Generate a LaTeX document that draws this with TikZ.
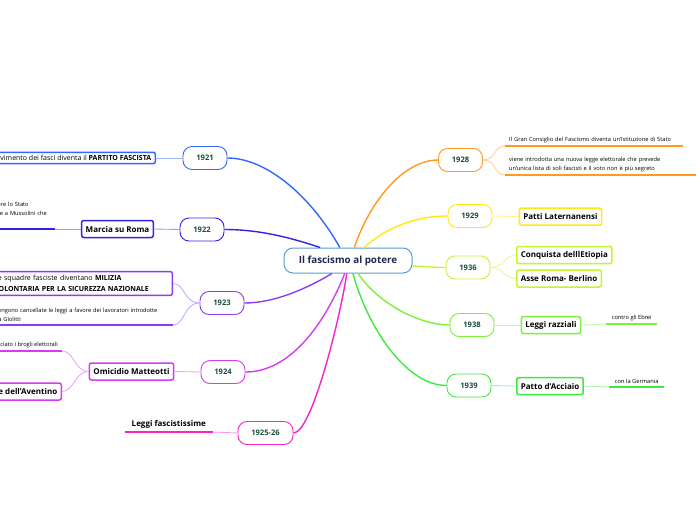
\documentclass[tikz,border=0pt]{standalone}
\usepackage{fontspec}
\setmainfont{Open Sans}
\usetikzlibrary{positioning}
\definecolor{rootblue}{HTML}{5B9BD5}
\definecolor{rootnavy}{HTML}{1B2A4E}
\definecolor{yeargreen}{HTML}{1A4D3C}
\definecolor{col1921}{HTML}{3366FF}
\definecolor{col1922}{HTML}{3322E6}
\definecolor{col1923}{HTML}{8B3DF2}
\definecolor{col1924}{HTML}{D53CF0}
\definecolor{col1925}{HTML}{F523C8}
\definecolor{col1928}{HTML}{FF9A1F}
\definecolor{col1929}{HTML}{FFEA10}
\definecolor{col1936}{HTML}{C4F530}
\definecolor{col1938}{HTML}{7CF03A}
\definecolor{col1939}{HTML}{3CEB3C}

\begin{document}
\begin{tikzpicture}[x=1pt, y=-1pt,
    root/.style={draw=rootblue, line width=1pt, rounded corners=9pt, fill=white, minimum width=128pt, minimum height=25pt, font=\fontsize{9.8}{11}\selectfont\bfseries, text=rootnavy},
    year/.style={draw=#1, line width=0.9pt, rounded corners=9pt, fill=white, minimum width=44pt, minimum height=23pt, font=\fontsize{7.6}{8}\selectfont\bfseries, text=yeargreen},
    topic/.style={draw=#1, line width=1.5pt, rounded corners=2pt, fill=white, inner xsep=4pt, inner ysep=0pt, minimum height=17pt, font=\fontsize{8}{9}\selectfont\bfseries},
    textbox/.style={draw=#1, line width=1.5pt, rounded corners=2pt, fill=white, inner sep=4pt, align=left, font=\fontsize{7}{10.5}\selectfont},
    note/.style={inner xsep=4pt, inner ysep=3pt, align=left, font=\fontsize{5.7}{8.8}\selectfont},
    trunk/.style={draw=#1, line width=1.4pt},
    twig/.style={draw=#1!45, line width=0.9pt},
    noteline/.style={draw=#1, line width=1.6pt}
]
\useasboundingbox (0,0) rectangle (696,520);

% Centre
\node[root] (root) at (348,260.5) {Il fascismo al potere};

% Left years
\node[year=col1921] (y1921) at (205,158) {1921};
\node[year=col1922] (y1922) at (202,229.5) {1922};
\node[year=col1923] (y1923) at (222,303) {1923};
\node[year=col1924] (y1924) at (223,372) {1924};
\node[year=col1925, minimum width=55pt] (y1925) at (265.5,433) {1925-26};

% Right years
\node[year=col1928] (y1928) at (460.5,160) {1928};
\node[year=col1929] (y1929) at (470,216) {1929};
\node[year=col1936] (y1936) at (468,267.5) {1936};
\node[year=col1938] (y1938) at (472,325) {1938};
\node[year=col1939] (y1939) at (469,385.5) {1939};

% 1921
\node[textbox=col1921, inner ysep=3pt, anchor=east] (b1921) at (156,158) {Il movimento dei fasci diventa il \textbf{PARTITO FASCISTA}};

% 1922
\node[topic=col1922] (b1922) at (117.5,229) {Marcia su Roma};
\node[note, text width=166pt, anchor=south east] (n1922) at (55,229) {Il re Vittorio Emanuele III, invece di difendere lo Stato\\dall'insurrezione fascista, consegna il potere a Mussolini che\\forma il governo};

% 1923
\node[textbox=col1923, text width=174pt, anchor=east] (b1923) at (173,283.5) {Le squadre fasciste diventano \textbf{MILIZIA}\\\textbf{VOLONTARIA PER LA SICUREZZA NAZIONALE}};
\node[note, text width=174pt, anchor=south east] (n1923) at (173,325) {Vengono cancellate le leggi a favore dei lavoratori introdotte\\da Giolitti};

% 1924
\node[topic=col1924] (b1924) at (131.5,371.5) {Omicidio Matteotti};
\node[note, anchor=south east] (n1924) at (62,351) {Matteotti aveva denunciato i brogli elettorali};
\node[topic=col1924, anchor=east] (s1924) at (62,391.5) {Secessione dell'Aventino};

% 1925-26
\node[note, font=\fontsize{8}{9}\selectfont\bfseries, minimum width=88pt, anchor=south east] (n1925) at (213,432) {Leggi fascistissime};

% 1928
\node[note, text width=170pt, anchor=south west] (n1928a) at (505,146) {Il Gran Consiglio del Fascismo diventa un'Istituzione di Stato};
\node[note, text width=190pt, anchor=south west] (n1928b) at (505,175) {viene introdotta una nuova legge elettorale che prevede\\un'unica lista di soli fascisti e il voto non è più segreto};

% 1929
\node[topic=col1929] (b1929) at (560.5,216.5) {Patti Laternanensi};

% 1936
\node[topic=col1936, anchor=west] (b1936a) at (516,255) {Conquista delllEtiopia};
\node[topic=col1936, anchor=west] (b1936b) at (516,278.5) {Asse Roma- Berlino};

% 1938
\node[topic=col1938] (b1938) at (551,325) {Leggi razziali};
\node[note, minimum width=51pt, anchor=south west] (n1938) at (606,324) {contro gli Ebrei};

% 1939
\node[topic=col1939] (b1939) at (550,386) {Patto d'Acciaio};
\node[note, minimum width=55pt, anchor=south west] (n1939) at (609,387) {con la Germania};

% Underlines
\draw[noteline=col1922] (n1922.south west) -- (n1922.south east);
\draw[noteline=col1923] (n1923.south west) -- (n1923.south east);
\draw[noteline=col1924] (n1924.south west) -- (n1924.south east);
\draw[noteline=col1925] (n1925.south west) -- (n1925.south east);
\draw[noteline=col1928] (n1928a.south west) -- (n1928a.south east);
\draw[noteline=col1928] (n1928b.south west) -- (n1928b.south east);
\draw[noteline=col1938] (n1938.south west) -- (n1938.south east);
\draw[noteline=col1939] (n1939.south west) -- (n1939.south east);

% Trunks
\draw[trunk=col1921] (root.122.6) .. controls +(-30,-53) and +(38,0) .. (y1921.east);
\draw[trunk=col1922] (root.155.9) .. controls +(-30,-10) and +(35,0) .. (y1922.east);
\draw[trunk=col1923] (root.219.8) .. controls +(-25,15) and +(30,0) .. (y1923.east);
\draw[trunk=col1924] (root.256.5) .. controls +(-20,50) and +(45,0) .. (y1924.east);
\draw[trunk=col1925] (root.265.4) .. controls +(-8,50) and +(18,0) .. (y1925.east);
\draw[trunk=col1928] (root.64.4) .. controls +(15,-45) and +(-35,0) .. (y1928.west);
\draw[trunk=col1929] (root.39.8) .. controls +(20,-18) and +(-35,0) .. (y1929.west);
\draw[trunk=col1936] (root.355.1) .. controls +(15,0) and +(-15,0) .. (y1936.west);
\draw[trunk=col1938] (root.308.7) .. controls +(20,30) and +(-30,0) .. (y1938.west);
\draw[trunk=col1939] (root.291.8) .. controls +(15,55) and +(-40,0) .. (y1939.west);

% Twigs
\draw[twig=col1921] (y1921.west) -- (b1921.east);
\draw[twig=col1922] (y1922.west) -- (b1922.east);
\draw[twig=col1922] (b1922.west) -- (n1922.south east);
\draw[twig=col1923] (y1923.west) .. controls +(-16,0) and +(12,0) .. (b1923.east);
\draw[twig=col1923] (y1923.west) .. controls +(-16,0) and +(12,0) .. (n1923.south east);
\draw[twig=col1924] (y1924.west) -- (b1924.east);
\draw[twig=col1924] (b1924.west) .. controls +(-14,0) and +(12,0) .. (n1924.south east);
\draw[twig=col1924] (b1924.west) .. controls +(-14,0) and +(12,0) .. (s1924.east);
\draw[twig=col1925] (y1925.west) -- (n1925.south east);
\draw[twig=col1928] (y1928.east) .. controls +(14,0) and +(-12,0) .. (n1928a.south west);
\draw[twig=col1928] (y1928.east) .. controls +(14,0) and +(-12,0) .. (n1928b.south west);
\draw[twig=col1929] (y1929.east) -- (b1929.west);
\draw[twig=col1936] (y1936.east) .. controls +(14,0) and +(-12,0) .. (b1936a.west);
\draw[twig=col1936] (y1936.east) .. controls +(14,0) and +(-12,0) .. (b1936b.west);
\draw[twig=col1938] (y1938.east) -- (b1938.west);
\draw[twig=col1938] (b1938.east) -- (n1938.south west);
\draw[twig=col1939] (y1939.east) -- (b1939.west);
\draw[twig=col1939] (b1939.east) -- (n1939.south west);
\end{tikzpicture}
\end{document}
